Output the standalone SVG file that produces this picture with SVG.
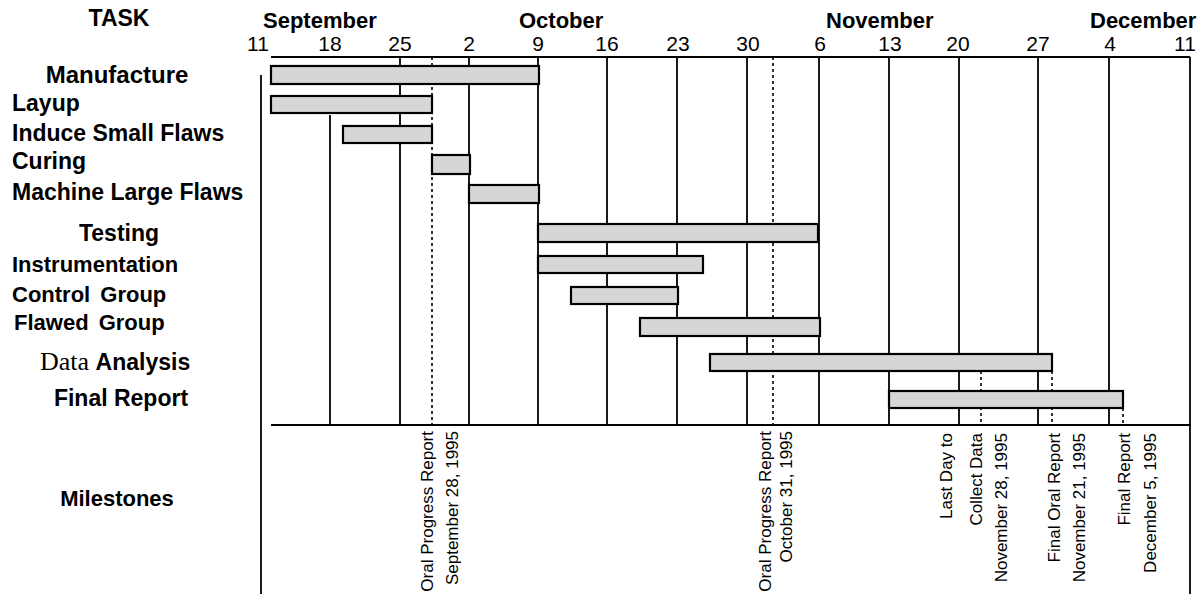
<svg xmlns="http://www.w3.org/2000/svg" width="1201" height="594" viewBox="0 0 1201 594">
<style>
.bg{fill:#fff}
.lbl{font-family:"Liberation Sans",Arial,sans-serif;font-weight:bold;font-size:23px;fill:#000}
.mon{font-family:"Liberation Sans",Arial,sans-serif;font-weight:bold;font-size:22px;fill:#000}
.num{font-family:"Liberation Sans",Arial,sans-serif;font-size:21px;fill:#000;text-anchor:middle}
.ms{font-family:"Liberation Sans",Arial,sans-serif;font-size:17px;fill:#000;text-anchor:end}
.bar{fill:#d6d6d6;stroke:#000;stroke-width:2.2}
.grid{stroke:#000;stroke-width:1.8;fill:none}
.dot{stroke:#000;stroke-width:1.6;stroke-dasharray:3 3;fill:none}
</style>
<rect class="bg" x="0" y="0" width="1201" height="594"/>

<g id="header">
<text class="lbl" x="119" y="26" text-anchor="middle">TASK</text>
<text class="mon" x="263" y="28">September</text>
<text class="mon" x="519" y="28">October</text>
<text class="mon" x="826" y="28">November</text>
<text class="mon" x="1090" y="28">December</text>
<text class="num" x="258" y="51">11</text>
<text class="num" x="330" y="51">18</text>
<text class="num" x="400" y="51">25</text>
<text class="num" x="469" y="51">2</text>
<text class="num" x="538" y="51">9</text>
<text class="num" x="607" y="51">16</text>
<text class="num" x="678" y="51">23</text>
<text class="num" x="748" y="51">30</text>
<text class="num" x="820" y="51">6</text>
<text class="num" x="890" y="51">13</text>
<text class="num" x="958" y="51">20</text>
<text class="num" x="1038" y="51">27</text>
<text class="num" x="1110" y="51">4</text>
<text class="num" x="1185" y="51">11</text>
</g>

<g id="connectors">
<line class="grid" x1="271" y1="57" x2="1190" y2="57"/>
<line class="grid" x1="271" y1="425" x2="1190" y2="425"/>
<line class="grid" x1="261" y1="75" x2="261" y2="594"/>
<line class="grid" x1="1190" y1="57" x2="1190" y2="594"/>
<line class="grid" x1="330" y1="115" x2="330" y2="425"/>
<line class="grid" x1="400" y1="57" x2="400" y2="425"/>
<line class="grid" x1="469" y1="57" x2="469" y2="425"/>
<line class="grid" x1="538" y1="57" x2="538" y2="425"/>
<line class="grid" x1="607" y1="57" x2="607" y2="425"/>
<line class="grid" x1="677" y1="57" x2="677" y2="425"/>
<line class="grid" x1="747" y1="57" x2="747" y2="425"/>
<line class="grid" x1="819" y1="57" x2="819" y2="425"/>
<line class="grid" x1="889" y1="57" x2="889" y2="425"/>
<line class="grid" x1="959" y1="57" x2="959" y2="425"/>
<line class="grid" x1="1038" y1="57" x2="1038" y2="425"/>
<line class="grid" x1="1109" y1="57" x2="1109" y2="425"/>
<line class="dot" x1="432" y1="57" x2="432" y2="425"/>
<line class="dot" x1="773" y1="57" x2="773" y2="425"/>
<line class="dot" x1="981" y1="371" x2="981" y2="425"/>
<line class="dot" x1="1052" y1="371" x2="1052" y2="425"/>
<line class="dot" x1="1123" y1="408" x2="1123" y2="425"/>
</g>

<g id="manufacture">
<text class="lbl" x="117" y="83" text-anchor="middle" style="font-size:24px">Manufacture</text>
<rect class="bar" x="271" y="66" width="268" height="18"/>
</g>
<g id="layup">
<text class="lbl" x="12" y="111">Layup</text>
<rect class="bar" x="271" y="96" width="161" height="17"/>
</g>
<g id="induce-small-flaws">
<text class="lbl" x="12" y="141">Induce Small Flaws</text>
<rect class="bar" x="343" y="126" width="89" height="17"/>
</g>
<g id="curing">
<text class="lbl" x="12" y="169">Curing</text>
<rect class="bar" x="432" y="155" width="38" height="19"/>
</g>
<g id="machine-large-flaws">
<text class="lbl" x="12" y="200">Machine Large Flaws</text>
<rect class="bar" x="469" y="185" width="70" height="18"/>
</g>
<g id="testing">
<text class="lbl" x="119" y="241" text-anchor="middle">Testing</text>
<rect class="bar" x="538" y="224" width="280" height="18"/>
</g>
<g id="instrumentation">
<text class="lbl" x="12" y="272" style="font-size:22px">Instrumentation</text>
<rect class="bar" x="538" y="256" width="165" height="17"/>
</g>
<g id="control-group">
<text class="lbl" x="12" y="302" style="font-size:22px;word-spacing:4px">Control Group</text>
<rect class="bar" x="571" y="287" width="107" height="17"/>
</g>
<g id="flawed-group">
<text class="lbl" x="14" y="330" style="font-size:22px;word-spacing:4px">Flawed Group</text>
<rect class="bar" x="640" y="318" width="180" height="18"/>
</g>
<g id="data-analysis">
<text x="40" y="370"><tspan style="font-family:'Liberation Serif',serif;font-size:26px">Data </tspan><tspan class="lbl">Analysis</tspan></text>
<rect class="bar" x="710" y="354" width="342" height="17"/>
</g>
<g id="final-report">
<text class="lbl" x="121" y="406" text-anchor="middle">Final Report</text>
<rect class="bar" x="889" y="391" width="234" height="17"/>
</g>

<g id="milestones">
<text class="lbl" x="117" y="506" text-anchor="middle" style="font-size:22px">Milestones</text>
<text class="ms" transform="translate(433,431) rotate(-90)">Oral Progress Report</text>
<text class="ms" transform="translate(458,431) rotate(-90)">September 28, 1995</text>
<text class="ms" transform="translate(771,431) rotate(-90)">Oral Progress Report</text>
<text class="ms" transform="translate(792,431) rotate(-90)">October 31, 1995</text>
<text class="ms" transform="translate(952,433) rotate(-90)">Last Day to</text>
<text class="ms" transform="translate(982,433) rotate(-90)">Collect Data</text>
<text class="ms" transform="translate(1007,433) rotate(-90)">November 28, 1995</text>
<text class="ms" transform="translate(1060,433) rotate(-90)">Final Oral Report</text>
<text class="ms" transform="translate(1085,433) rotate(-90)">November 21, 1995</text>
<text class="ms" transform="translate(1130,433) rotate(-90)">Final Report</text>
<text class="ms" transform="translate(1156,433) rotate(-90)">December 5, 1995</text>
</g>
</svg>
